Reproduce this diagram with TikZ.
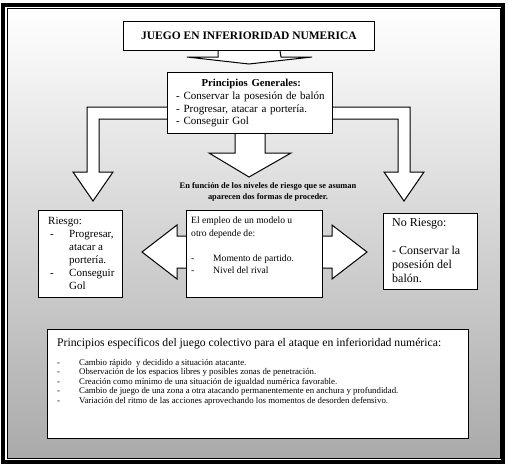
\documentclass[tikz,border=0pt]{standalone}
\usepackage{fontspec}
\setmainfont{Liberation Serif}
\usetikzlibrary{positioning}
\usetikzlibrary{calc}
\usetikzlibrary{backgrounds}

\pgfdeclarelayer{arrows}
\pgfsetlayers{background,arrows,main}

\definecolor{bggray}{RGB}{170,170,170}

\tikzset{
  box/.style={draw=black, fill=white, line width=1pt, inner sep=0pt, anchor=north west},
  flecha/.style={draw=black, fill=white, line width=1pt, line join=miter},
  txt/.style={inner sep=0pt, align=left, anchor=north west},
}

\begin{document}
\begin{tikzpicture}[x=1pt, y=-1pt]
  \useasboundingbox (0,0) rectangle (508,466);

  % Frame and shaded background
  \begin{scope}[on background layer]
    \fill[white] (0,0) rectangle (508,466);
    \shade[top color=white, bottom color=bggray] (7,8) rectangle (500,458);
    \draw[line width=4pt] (3,5) rectangle (503,461.5);
    \draw[line width=1pt] (7,8) rectangle (500,458);
  \end{scope}

  % Boxes
  \node[box, minimum width=251, minimum height=29, anchor=north west,
        font=\fontsize{11.5}{13}\selectfont\bfseries] (title) at (123,21) {JUEGO EN INFERIORIDAD NUMERICA};

  \node[box, minimum width=165, minimum height=61] (gen) at (167,72) {};
  \node[txt, text width=150, font=\fontsize{11}{12.7}\selectfont] (genText) at ([xshift=9pt, yshift=-7pt]gen.north west)
    {\makebox[\linewidth][c]{\fontsize{10.7}{12.7}\selectfont\bfseries Principios Generales:}\\
     - Conservar la posesión de balón\\
     - Progresar, atacar a portería.\\
     - Conseguir Gol};

  \node[box, minimum width=84, minimum height=87] (riesgo) at (38,210) {};
  \node[txt, font=\fontsize{11}{13}\selectfont] (riesgoText) at ([xshift=10pt, yshift=-7pt]riesgo.north west)
    {Riesgo:\\
     \hspace*{2pt}\makebox[19pt][l]{-}Progresar,\\
     \hspace*{21pt}atacar a\\
     \hspace*{21pt}portería.\\
     \hspace*{2pt}\makebox[19pt][l]{-}Conseguir\\
     \hspace*{21pt}Gol};

  \node[box, minimum width=136, minimum height=87] (modelo) at (186,210) {};
  \node[txt, font=\fontsize{9.6}{12.5}\selectfont] (modeloText) at ([xshift=5pt, yshift=-7pt]modelo.north west)
    {El empleo de un modelo u\\
     otro depende de:\\[12.5pt]
     \makebox[22pt][l]{-}Momento de partido.\\
     \makebox[22pt][l]{-}Nivel del rival};

  \node[box, minimum width=94, minimum height=76] (noriesgo) at (383,213) {};
  \node[txt, font=\fontsize{12}{14}\selectfont] (noriesgoText) at ([xshift=9pt, yshift=-5pt]noriesgo.north west)
    {No Riesgo:\\[14pt]
     - Conservar la\\
     posesión del\\
     balón.};

  \node[box, minimum width=421, minimum height=109] (espec) at (47,329) {};
  \node[txt, font=\fontsize{11.7}{13}\selectfont] (especTitle) at ([xshift=10pt, yshift=-9pt]espec.north west)
    {Principios específicos del juego colectivo para el ataque en inferioridad numérica:};
  \node[txt, font=\fontsize{8.8}{9.5}\selectfont] (especList) at ([yshift=-10pt]especTitle.south west)
    {\makebox[22pt][l]{-}Cambio rápido \ y decidido a situación atacante.\\
     \makebox[22pt][l]{-}Observación de los espacios libres y posibles zonas de penetración.\\
     \makebox[22pt][l]{-}Creación como mínimo de una situación de igualdad numérica favorable.\\
     \makebox[22pt][l]{-}Cambio de juego de una zona a otra atacando permanentemente en anchura y profundidad.\\
     \makebox[22pt][l]{-}Variación del ritmo de las acciones aprovechando los momentos de desorden defensivo.};

  % Middle caption
  \node[align=center, inner sep=0pt, font=\fontsize{8.4}{11.5}\selectfont\bfseries] (riesgoNote) at (268,192)
    {En función de los niveles de riesgo que se asuman\\ aparecen dos formas de proceder.};

  % Block arrows
  \coordinate (lTip) at (93,201);
  \coordinate (rTip) at (404,201);
  \coordinate (cTip) at (249,177);
  \begin{pgfonlayer}{arrows}
    \draw[flecha] ($(title.south)+(-31,0)$) -- ++(0,6) -- ++(-31,0) -- ($(title.south)+(0,13)$)
      -- ($(title.south)+(63,6)$) -- ++(-31,0) -- ($(title.south)+(31,0)$);
    \draw[flecha] ($(gen.north west)+(0,35)$) -- (87,107) -- (87,172) -- (73,172) -- (lTip)
      -- (113,172) -- (99,172) -- (99,119) -- ($(gen.north west)+(0,47)$);
    \draw[flecha] ($(gen.north east)+(0,35)$) -- (410,107) -- (410,172) -- (424,172) -- (rTip)
      -- (384,172) -- (398,172) -- (398,119) -- ($(gen.north east)+(0,47)$);
    \draw[flecha] ($(gen.south)+(-15,0)$) -- ++(0,19) -- ++(-26,0) -- (cTip)
      -- ($(gen.south)+(41,19)$) -- ++(-26,0) -- ($(gen.south)+(15,0)$);
    \draw[flecha] (177,236) -- (177,225) -- (142,252) -- (177,279) -- (177,268) -- (332,268)
      -- (332,279) -- (367,252) -- (332,225) -- (332,236) -- cycle;
  \end{pgfonlayer}
\end{tikzpicture}
\end{document}
